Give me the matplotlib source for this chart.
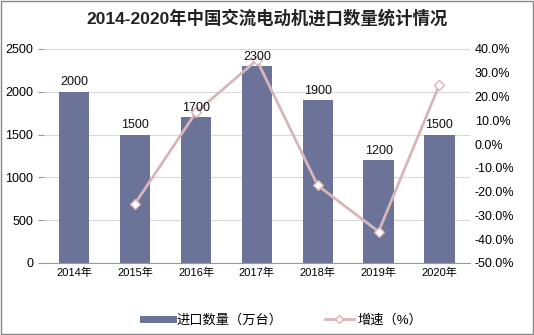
import matplotlib.pyplot as plt
from matplotlib.lines import Line2D
import numpy as np

plt.rcParams['font.family'] = ['Liberation Sans', 'Noto Sans CJK SC', 'DejaVu Sans']

years = ['2014年', '2015年', '2016年', '2017年', '2018年', '2019年', '2020年']
imports = [2000, 1500, 1700, 2300, 1900, 1200, 1500]
growth = [np.nan, -25.0, 13.3, 35.3, -17.4, -36.8, 25.0]

bar_color = '#6B7399'
line_color = '#D9B5B8'

fig = plt.figure(figsize=(5.34, 3.35), dpi=100)
ax = fig.add_axes([0.082, 0.215, 0.798, 0.639])
x = np.arange(len(years))

ax.bar(x, imports, width=0.5, color=bar_color, zorder=2)
ax.set_ylim(0, 2500)
ax.set_yticks(range(0, 2501, 500))
ax.set_xlim(-0.5, 6.5)
ax.set_xticks(x)
ax.set_xticklabels(years, fontsize=8)
ax.tick_params(axis='y', labelsize=9, length=4, color='#999999')
ax.tick_params(axis='x', length=0)
ax.grid(axis='y', color='#D9D9D9', linewidth=0.8, zorder=0)
for s in ['top', 'right', 'left']:
    ax.spines[s].set_visible(False)
ax.spines['bottom'].set_color('#999999')

ax2 = ax.twinx()
ax2.plot(x, growth, color=line_color, linewidth=2, marker='D', markersize=5,
         markerfacecolor='white', markeredgecolor=line_color, zorder=3)
ax2.set_ylim(-50, 40)
ax2.set_yticks(range(-50, 41, 10))
ax2.set_yticklabels([f'{v:.1f}%' for v in range(-50, 41, 10)], fontsize=9)
ax2.tick_params(axis='y', length=0)
for s in ['top', 'right', 'left', 'bottom']:
    ax2.spines[s].set_visible(False)

# value labels on top of everything
for xi, v in zip(x, imports):
    ax2.text(xi, v + 40, str(v), transform=ax.transData, ha='center', va='bottom',
             fontsize=9, color='#111111', zorder=5)

fig.suptitle('2014-2020年中国交流电动机进口数量统计情况', x=0.5, y=0.975,
             fontsize=12.5, fontweight='bold', color='#222222')

handles = [Line2D([], [], color=bar_color, linewidth=5),
           Line2D([], [], color=line_color, linewidth=2, marker='D', markersize=4,
                  markerfacecolor='white', markeredgecolor=line_color)]
fig.legend(handles, ['进口数量（万台）', '增速（%）'], loc='lower center',
           bbox_to_anchor=(0.53, -0.01), ncol=2, frameon=False, fontsize=9.5,
           handlelength=2.2, handletextpad=0.3, columnspacing=3.2)

fig.patches.append(plt.Rectangle((0.002, 0.003), 0.996, 0.994, transform=fig.transFigure,
                                 fill=False, edgecolor='#888888', linewidth=1))

fig.savefig('out.png', dpi=100)
